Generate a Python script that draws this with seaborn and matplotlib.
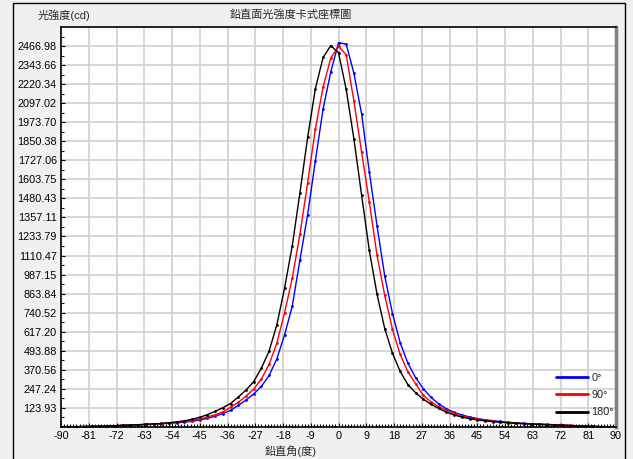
import numpy as np
import pandas as pd
import matplotlib
matplotlib.use('Agg')
import matplotlib.pyplot as plt
from matplotlib.lines import Line2D
from matplotlib.patches import Rectangle
import seaborn as sns

# vertical angle (deg), one point every 2.5 deg
angles = np.arange(-90, 90.1, 2.5)

# luminous intensity (cd)
cd_0 = [0, 1, 2, 3, 4, 5, 6, 8, 10, 12, 14, 16, 18, 20, 24, 27, 31, 37,
        45, 56, 70, 87, 108, 140, 175, 214, 263, 334, 441, 596, 782, 1083, 1376, 1725,
        2060, 2300, 2488, 2480, 2290, 2026, 1651, 1303, 977, 735, 547, 413, 320, 248,
        192, 150, 118, 95, 78, 65, 55, 47, 41, 36, 31, 27, 24, 21, 19, 17,
        15, 13, 10, 8, 6, 4, 3, 1, 0]
cd_90 = [0, 1, 2, 3, 4, 5, 6, 8, 10, 12, 14, 17, 19, 22, 26, 30, 35, 42,
         52, 65, 80, 98, 128, 160, 200, 246, 311, 406, 543, 739, 964, 1250, 1582, 1930,
         2202, 2389, 2465, 2410, 2110, 1779, 1455, 1111, 852, 633, 470, 357, 280, 205,
         163, 132, 108, 88, 72, 60, 50, 43, 37, 32, 28, 25, 22, 20, 18, 16,
         14, 12, 10, 8, 6, 4, 3, 1, 0]
cd_180 = [0, 1, 2, 3, 4, 5, 7, 9, 11, 13, 15, 18, 20, 23,
          28, 33, 40, 50, 63, 80, 101, 125, 152, 194, 239, 294, 381, 492, 662, 898,
          1173, 1518, 1877, 2191, 2393, 2470,
          2424,
          2186, 1865, 1501, 1143, 859, 637, 478, 360, 275, 222,
          180, 148, 120, 96, 78, 64, 54, 46, 40, 35,
          31, 27, 24, 21, 19, 17, 15, 13, 11, 9,
          7, 5, 4, 2, 1, 0]

series_names = ['0°', '90°', '180°']
series_colors = ['#0000FF', '#FF0000', '#000000']

x_ticks = list(range(-90, 91, 9))
y_tick_labels = ['123.93', '247.24', '370.56', '493.88', '617.20', '740.52', '863.84',
                 '987.15', '1110.47', '1233.79', '1357.11', '1480.43', '1603.75',
                 '1727.06', '1850.38', '1973.70', '2097.02', '2220.34', '2343.66',
                 '2466.98']

df = pd.DataFrame({
    'angle': np.tile(angles, 3),
    'cd': cd_0 + cd_90 + cd_180,
    'series': np.repeat(series_names, len(angles)),
})

sns.set_theme(style="whitegrid")
plt.rcParams['font.family'] = ['Liberation Sans', 'Noto Sans CJK TC', 'DejaVu Sans']

W, H = 633, 459
fig = plt.figure(figsize=(W / 100, H / 100), dpi=100, facecolor='#F0F0F0')

# outer panel frame
fig.patches.append(Rectangle((13 / W, -0.05), (625 - 13) / W, 1.05 - 3 / H,
                             transform=fig.transFigure, fill=False,
                             edgecolor='black', lw=1))

ax = fig.add_axes([61 / W, (H - 427) / H, (616 - 61) / W, (427 - 27) / H])
ax.set_facecolor('white')

sns.lineplot(data=df, x='angle', y='cd', hue='series', hue_order=series_names,
             palette=series_colors, marker='o', markersize=2, markeredgewidth=0,
             linewidth=1, legend=False, ax=ax)

ax.set_xlim(-90, 90)
ax.set_ylim(0, 21 * 123.349)
ax.set_xticks(x_ticks)
ax.set_xticklabels([str(t) for t in x_ticks])
ax.set_xticks(range(-90, 91, 1), minor=True)
y_pos = [float(s) for s in y_tick_labels]
ax.set_yticks(y_pos)
ax.set_yticklabels(y_tick_labels)
ax.set_yticks([k * 123.349 / 2 for k in range(1, 42, 2)], minor=True)

ax.grid(True, which='major', color='#D0D0D0', lw=1.2)
ax.grid(False, which='minor')
ax.tick_params(axis='both', which='both', direction='in', labelsize=7.8,
               colors='black', pad=3)
ax.tick_params(axis='both', which='major', length=3, width=0.8)
ax.tick_params(axis='both', which='minor', length=2.5, width=0.8)
ax.tick_params(axis='x', which='both', bottom=True)
ax.tick_params(axis='y', which='both', left=True)

for side in ['left', 'bottom', 'top']:
    ax.spines[side].set_color('black')
    ax.spines[side].set_linewidth(1.2)
ax.spines['right'].set_color('#808080')
ax.spines['right'].set_linewidth(2.5)

ax.set_xlabel('')
ax.set_ylabel('')

handles = [Line2D([0], [0], color=c, lw=2) for c in series_colors]
ax.legend(handles, series_names, loc='lower right', bbox_to_anchor=(1.008, 0.008),
          frameon=False, fontsize=7.8, handlelength=3.0, handletextpad=0.3,
          labelspacing=0.68, borderaxespad=0.2)

fig.text(291 / W, 1 - 15 / H, '鉛直面光強度卡式座標圖', ha='center', va='center', fontsize=8)
fig.text(38 / W, 1 - 15 / H, '光強度(cd)', ha='left', va='center', fontsize=8)
fig.text(291 / W, 1 - 451 / H, '鉛直角(度)', ha='center', va='center', fontsize=8)

fig.savefig('out.png', dpi=100, facecolor=fig.get_facecolor())
